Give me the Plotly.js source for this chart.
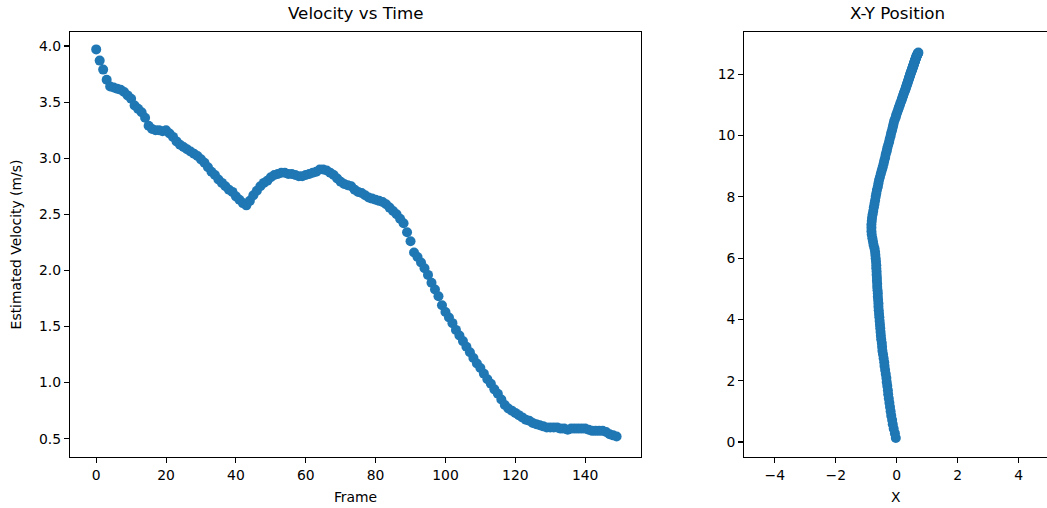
<!DOCTYPE html>
<html>
<head>
<meta charset="utf-8">
<script src="https://cdn.plot.ly/plotly-3.0.1.min.js"></script>
<style>html,body{margin:0;padding:0;background:#fff;}#chart{width:1047px;height:508px;}</style>
</head>
<body>
<div id="chart"></div>
<script>
// Velocity vs Time (frame index 0..149)
const velocity = [
  3.97, 3.87, 3.79, 3.70, 3.64, 3.63, 3.62, 3.61, 3.59, 3.56,
  3.53, 3.47, 3.44, 3.41, 3.36, 3.29, 3.26, 3.25, 3.25, 3.24,
  3.25, 3.22, 3.19, 3.15, 3.12, 3.10, 3.08, 3.06, 3.04, 3.02,
  2.99, 2.96, 2.92, 2.88, 2.85, 2.81, 2.78, 2.75, 2.72, 2.70,
  2.66, 2.63, 2.60, 2.58, 2.62, 2.67, 2.71, 2.75, 2.78, 2.80,
  2.83, 2.85, 2.86, 2.87, 2.87, 2.86, 2.86, 2.85, 2.84, 2.84,
  2.85, 2.86, 2.87, 2.88, 2.90, 2.90, 2.89, 2.87, 2.85, 2.82,
  2.79, 2.77, 2.76, 2.75, 2.72, 2.70, 2.69, 2.67, 2.65, 2.64,
  2.63, 2.62, 2.61, 2.59, 2.56, 2.53, 2.50, 2.46, 2.42, 2.34,
  2.26, 2.16, 2.12, 2.07, 2.02, 1.96, 1.89, 1.83, 1.77, 1.69,
  1.63, 1.58, 1.53, 1.47, 1.42, 1.37, 1.32, 1.27, 1.22, 1.17,
  1.13, 1.08, 1.03, 0.99, 0.94, 0.90, 0.85, 0.80, 0.77, 0.75,
  0.73, 0.71, 0.69, 0.67, 0.66, 0.64, 0.63, 0.62, 0.61, 0.60,
  0.60, 0.60, 0.60, 0.59, 0.59, 0.58, 0.59, 0.59, 0.59, 0.59,
  0.59, 0.58, 0.57, 0.57, 0.57, 0.57, 0.56, 0.54, 0.53, 0.52
];
const frames = velocity.map((_, i) => i);

// X-Y position
const posY = [
  0.13, 0.28, 0.43, 0.58, 0.72, 0.86, 1.00, 1.14, 1.28, 1.42,
  1.56, 1.69, 1.83, 1.96, 2.09, 2.22, 2.35, 2.48, 2.60, 2.73,
  2.86, 2.98, 3.11, 3.23, 3.35, 3.47, 3.59, 3.71, 3.83, 3.95,
  4.07, 4.18, 4.30, 4.41, 4.52, 4.63, 4.74, 4.85, 4.95, 5.06,
  5.16, 5.26, 5.36, 5.46, 5.56, 5.67, 5.77, 5.88, 5.99, 6.10,
  6.21, 6.32, 6.43, 6.54, 6.65, 6.77, 6.88, 6.99, 7.10, 7.21,
  7.32, 7.43, 7.54, 7.66, 7.77, 7.88, 8.00, 8.11, 8.22, 8.33,
  8.44, 8.55, 8.65, 8.76, 8.87, 8.97, 9.08, 9.18, 9.28, 9.39,
  9.49, 9.59, 9.69, 9.79, 9.89, 9.99, 10.09, 10.18, 10.27, 10.36,
  10.45, 10.53, 10.61, 10.69, 10.77, 10.85, 10.92, 10.99, 11.06, 11.13,
  11.19, 11.25, 11.31, 11.37, 11.42, 11.47, 11.52, 11.57, 11.62, 11.66,
  11.70, 11.74, 11.78, 11.82, 11.86, 11.89, 11.92, 11.95, 11.98, 12.01,
  12.04, 12.07, 12.10, 12.12, 12.15, 12.17, 12.20, 12.22, 12.25, 12.27,
  12.29, 12.32, 12.34, 12.36, 12.39, 12.41, 12.43, 12.46, 12.48, 12.50,
  12.52, 12.55, 12.57, 12.59, 12.61, 12.63, 12.65, 12.67, 12.69, 12.71
];
const posX = [
  -0.03, -0.06, -0.10, -0.13, -0.15, -0.18, -0.20, -0.22, -0.24, -0.26,
  -0.28, -0.29, -0.31, -0.33, -0.34, -0.36, -0.38, -0.40, -0.41, -0.43,
  -0.45, -0.47, -0.48, -0.49, -0.51, -0.52, -0.53, -0.54, -0.55, -0.56,
  -0.57, -0.58, -0.59, -0.60, -0.60, -0.61, -0.62, -0.62, -0.63, -0.64,
  -0.64, -0.65, -0.65, -0.66, -0.66, -0.67, -0.67, -0.68, -0.69, -0.70,
  -0.71, -0.73, -0.76, -0.78, -0.80, -0.82, -0.83, -0.83, -0.83, -0.82,
  -0.81, -0.79, -0.77, -0.75, -0.73, -0.71, -0.69, -0.67, -0.65, -0.62,
  -0.60, -0.58, -0.55, -0.52, -0.49, -0.46, -0.43, -0.41, -0.38, -0.36,
  -0.33, -0.31, -0.28, -0.25, -0.23, -0.20, -0.18, -0.15, -0.13, -0.11,
  -0.09, -0.06, -0.03, -0.01, 0.02, 0.05, 0.07, 0.10, 0.12, 0.15,
  0.17, 0.19, 0.21, 0.23, 0.25, 0.27, 0.29, 0.30, 0.32, 0.33,
  0.35, 0.36, 0.37, 0.39, 0.40, 0.41, 0.42, 0.43, 0.44, 0.45,
  0.46, 0.47, 0.48, 0.49, 0.50, 0.51, 0.52, 0.52, 0.53, 0.54,
  0.55, 0.56, 0.56, 0.57, 0.58, 0.59, 0.60, 0.60, 0.61, 0.62,
  0.63, 0.64, 0.64, 0.65, 0.66, 0.67, 0.68, 0.69, 0.70, 0.71
];

const leftXTicks = [0, 20, 40, 60, 80, 100, 120, 140];
const leftYTicks = [0.5, 1.0, 1.5, 2.0, 2.5, 3.0, 3.5, 4.0];
const leftYTickText = ['0.5', '1.0', '1.5', '2.0', '2.5', '3.0', '3.5', '4.0'];
const rightXTicks = [-4, -2, 0, 2, 4];
const rightYTicks = [0, 2, 4, 6, 8, 10, 12];

const blue = '#1f77b4';
const font = {family: 'DejaVu Sans, sans-serif', size: 13.9, color: '#000'};

const traces = [
  {x: frames, y: velocity, type: 'scatter', mode: 'markers', xaxis: 'x', yaxis: 'y',
   marker: {color: blue, size: 10, line: {width: 0}}},
  {x: posX, y: posY, type: 'scatter', mode: 'markers', xaxis: 'x2', yaxis: 'y2',
   marker: {color: blue, size: 10, line: {width: 0}}}
];

const axisCommon = {
  showgrid: false, zeroline: false, showline: true, linecolor: '#000', linewidth: 1.1,
  ticks: 'outside', ticklen: 5, tickwidth: 1.1, tickcolor: '#000', tickfont: font
};

const layout = {
  width: 1047, height: 508,
  margin: {l: 70, r: 0, t: 32, b: 51},
  paper_bgcolor: '#fff', plot_bgcolor: '#fff',
  showlegend: false, hovermode: false,
  font: font,
  xaxis: Object.assign({}, axisCommon, {
    domain: [0, 0.5845], range: [-7.5, 156.0], mirror: true,
    tickvals: leftXTicks, ticktext: leftXTicks.map(String),
    title: {text: 'Frame', font: font, standoff: 10}
  }),
  yaxis: Object.assign({}, axisCommon, {
    domain: [0, 1], range: [0.337, 4.125], mirror: true,
    tickvals: leftYTicks, ticktext: leftYTickText,
    title: {text: 'Estimated Velocity (m/s)', font: font, standoff: 14}
  }),
  xaxis2: Object.assign({}, axisCommon, {
    domain: [0.6902, 1], range: [-5, 4.93], mirror: true, anchor: 'y2',
    tickvals: rightXTicks, ticktext: rightXTicks.map(v => v < 0 ? '\u2212' + Math.abs(v) : String(v)),
    title: {text: 'X', font: font, standoff: 10}
  }),
  yaxis2: Object.assign({}, axisCommon, {
    domain: [0, 1], range: [-0.49, 13.38], mirror: false, anchor: 'x2',
    tickvals: rightYTicks, ticktext: rightYTicks.map(String)
  }),
  annotations: [
    {text: 'Velocity vs Time', xref: 'paper', yref: 'paper', x: 0.5845 / 2, y: 1,
     xanchor: 'center', yanchor: 'bottom', yshift: 7, showarrow: false,
     font: {family: 'DejaVu Sans, sans-serif', size: 16.7, color: '#000'}},
    {text: 'X-Y Position', xref: 'paper', yref: 'paper', x: (0.6902 + 1.0031) / 2, y: 1,
     xanchor: 'center', yanchor: 'bottom', yshift: 7, showarrow: false,
     font: {family: 'DejaVu Sans, sans-serif', size: 16.7, color: '#000'}}
  ]
};

Plotly.newPlot('chart', traces, layout, {displayModeBar: false, staticPlot: true});
</script>
</body>
</html>
